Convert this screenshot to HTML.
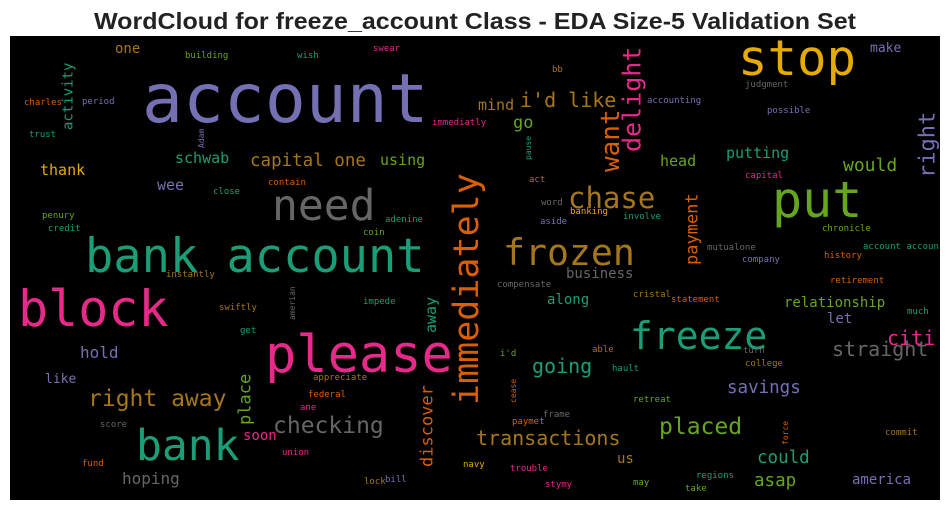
<!DOCTYPE html>
<html>
<head>
<meta charset="utf-8">
<style>
  html,body{margin:0;padding:0;background:#fff;}
  body{width:950px;height:511px;overflow:hidden;}
  svg{display:block;}
  .w{font-family:"DejaVu Sans Mono","Liberation Mono",monospace;}
</style>
</head>
<body>
<svg id="chart" width="950" height="511" viewBox="0 0 950 511" xmlns="http://www.w3.org/2000/svg">
  <text x="475" y="29" text-anchor="middle" font-family="Liberation Sans, Arial, sans-serif" font-weight="bold" font-size="23" textLength="762" lengthAdjust="spacingAndGlyphs" fill="#222">WordCloud for freeze_account Class - EDA Size-5 Validation Set</text>
  <rect x="10" y="36" width="930" height="464" fill="#000"/>
  <g id="words"></g>
</svg>
<script>
// Word cloud data: words, weights (font size), color index, orientation
const words = ["account","stop","put","need","bank account","block","please","bank","freeze","frozen","immediately","chase","delight","want","i'd like","mind","go","capital one","using","schwab","thank","wee","activity","one","building","wish","swear","charles","period","trust","Adam","penury","credit","close","contain","bb","immediatly","pause","act","word","banking","aside","involve","adenine","coin","make","judgment","accounting","possible","right","head","putting","would","capital","payment","chronicle","mutualone","company","history","account accoun","business","compensate","along","impede","away","instantly","swiftly","amerian","get","hold","like","right away","place","appreciate","federal","ane","checking","soon","union","score","fund","hoping","discover","going","i'd","able","hault","cease","frame","paymet","transactions","us","navy","trouble","lock","bill","stymy","retirement","cristal","statement","relationship","let","much","citi","straight","turn","college","retreat","savings","placed","force","commit","could","america","asap","regions","may","take"];
const weights = [68,49,50,43,47,50,52,43,38,36.5,35,29,25,26,20,15,17,17.5,15,15,15,15,14,14,9,9,9,9,9,9,8,9,9,9,9,9,9,8,9,9,9,9,9,9,9,13,9,9,9,22,15,15,18,9,17,9,9,9,9,9,14,9,14,9,15,9,9,8,9,16,13,23,17,9,9,9,23,14,9,9,9,16,17,20,9,9,9,8,9,9,20,14,9,9,9,9,9,9,9,9,14,14,9,20,20,9,9,9,17.5,23,8,9,17.5,14,17.5,9,9,9];
const colorIdx = [2,5,4,7,0,3,3,0,0,6,1,6,3,1,6,6,4,6,4,0,5,2,0,6,4,0,3,1,2,0,2,4,0,0,1,6,3,0,6,7,5,2,0,0,4,2,7,2,2,2,4,0,4,3,1,4,7,2,1,0,7,7,0,0,0,6,6,7,0,2,2,6,4,6,1,3,7,3,3,7,1,7,1,0,4,6,0,1,7,1,6,6,5,3,6,2,3,1,6,1,4,2,0,3,7,7,6,4,2,4,1,6,0,2,4,0,4,4];
const verticalWords = ["immediately","delight","want","activity","Adam","pause","right","payment","away","amerian","place","discover","cease","force"];
const palette = ["#1b9e77","#d95f02","#7570b3","#e7298a","#66a61e","#e6ab02","#a6761d","#666666"];
// Layout (left edge, baseline / for vertical: left edge, bottom edge)
const layoutX = [142,738,772,272,85,18,265,136,630,503,452,568,622,600,520,478,513,250,380,175,40,157,62,115,185,297,373,24,82,29,198,42,48,213,268,552,432,525,529,541,570,540,623,385,363,870,745,647,767,918,660,726,843,745,685,822,707,742,824,863,566,497,547,363,425,166,219,289,240,80,45,88,238,313,308,300,273,243,282,100,82,122,420,532,500,592,612,510,543,512,476,617,463,510,364,385,545,830,633,671,784,827,907,887,832,743,745,633,727,659,782,885,757,852,754,696,633,685];
const layoutY = [122,75,217,220,272,326,372,460,349,265,405,208,152,172,107,110,128,166,165,163,175,190,130,53,58,58,51,105,104,137,148,218,231,194,185,72,125,160,182,205,214,224,219,222,235,52,87,103,113,178,166,158,171,178,265,231,250,262,258,249,278,287,304,304,333,277,310,320,333,358,383,406,425,380,397,410,433,440,455,427,466,484,467,373,356,352,371,403,417,424,445,463,467,471,484,482,487,283,297,302,307,323,314,345,356,353,366,402,393,434,445,435,463,484,486,478,485,491];

const g = document.getElementById('words');
const NS = 'http://www.w3.org/2000/svg';
for (let i = 0; i < words.length; i++) {
  const t = document.createElementNS(NS, 'text');
  
  
  t.setAttribute('class', 'w');
  const fs = weights[i];
  t.setAttribute('font-size', fs);
  t.setAttribute('fill', palette[colorIdx[i]]);
  if (verticalWords.indexOf(words[i]) >= 0) {
    const bx = layoutX[i] + 0.74 * fs;
    t.setAttribute('transform', 'translate(' + bx + ',' + layoutY[i] + ') rotate(-90)');
  } else {
    t.setAttribute('x', layoutX[i]);
    t.setAttribute('y', layoutY[i]);
  }
  t.textContent = words[i];
  g.appendChild(t);
}
</script>
</body>
</html>
